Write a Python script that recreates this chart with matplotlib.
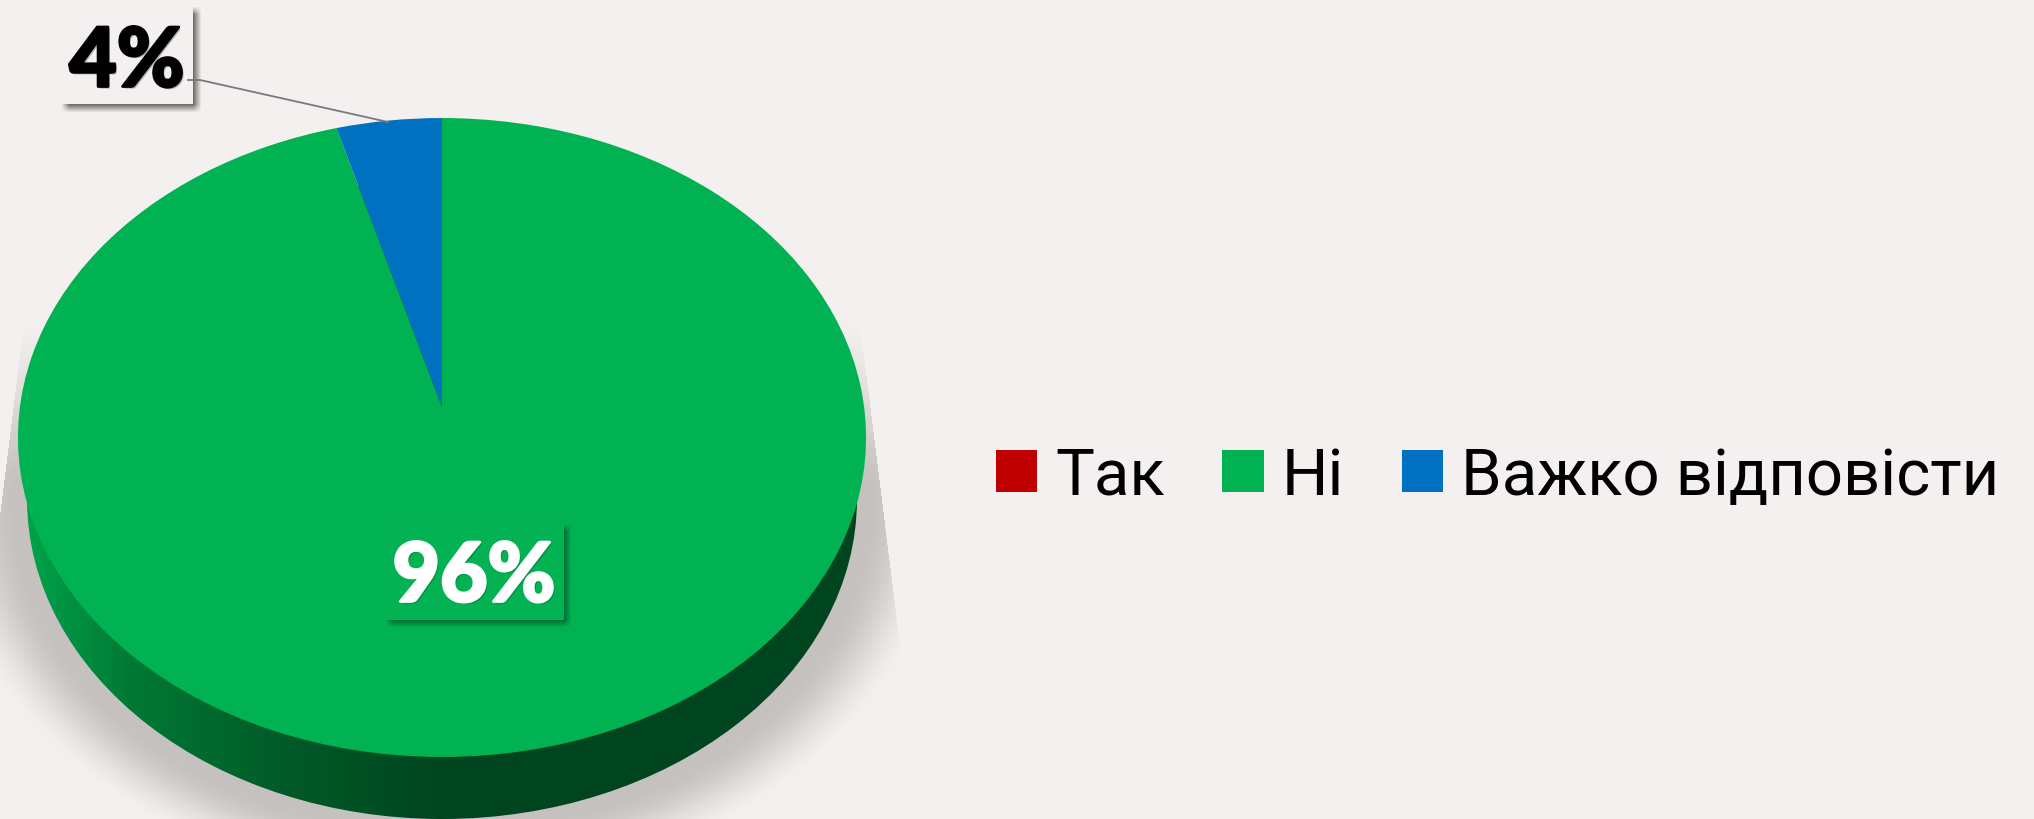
"""Perspective pie with an extruded wall, soft shadow and bottom-right legend."""
import matplotlib

matplotlib.use("Agg")
import matplotlib.patheffects as pe
import matplotlib.pyplot as plt
import numpy as np
from matplotlib.colors import LinearSegmentedColormap
from matplotlib.patches import Ellipse, Rectangle
from matplotlib.transforms import Transform

categories = ["Так", "Ні", "Важко відповісти"]
shares = [0.0, 95.6, 4.4]
slice_colors = ["#C00000", "#00B251", "#0070C0"]
percent_labels = ["96%", "4%"]

BG = "#F4F0EF"
WIDTH, HEIGHT = 2034, 820


class Perspective(Transform):
    """Tilt the unit-circle pie into page pixels."""

    input_dims = 2
    output_dims = 2

    def transform_non_affine(self, values):
        u, v = np.asarray(values).T
        w = 0.0955 * v + 1.0
        return np.column_stack([442.0 + 422.1 * u / w, (408.0 - 277.6 * v) / w])


def soft_rect(ax, x0, y0, x1, y1, color, alpha, blur, zorder):
    """Blurred rectangle used as a drop shadow."""
    xs = np.arange(x0 - blur, x1 + blur + 1)
    ys = np.arange(y0 - blur, y1 + blur + 1)
    gx = np.clip(np.minimum(xs - x0 + blur, x1 + blur - xs) / (2 * blur), 0, 1)
    gy = np.clip(np.minimum(ys - y0 + blur, y1 + blur - ys) / (2 * blur), 0, 1)
    rgba = np.zeros((len(ys), len(xs), 4))
    rgba[..., :3] = matplotlib.colors.to_rgb(color)
    rgba[..., 3] = alpha * np.outer(gy, gx)
    ax.imshow(rgba, extent=(xs[0], xs[-1], ys[-1], ys[0]), aspect="auto", zorder=zorder)


def heavy(color, shadow_color):
    """Thicken a label and give it a small soft shadow."""
    return [
        pe.SimplePatchShadow(offset=(1.5, -1.5), shadow_rgbFace=shadow_color, alpha=0.35),
        pe.Stroke(linewidth=2, foreground=color),
        pe.Normal(),
    ]


fig = plt.figure(figsize=(WIDTH / 100, HEIGHT / 100), dpi=100, facecolor=BG)
ax = fig.add_axes([0, 0, 1, 1])

# ground shadow, hard on the sides and soft towards the bottom
yy, xx = np.mgrid[0:HEIGHT, 0:WIDTH] + 0.5
radial = np.hypot((xx - 442) / 412, (yy - 500) / 320)
fade = np.clip((1.23 - radial) / 0.20, 0, 1)
fade = fade * fade * (3 - 2 * fade)
side = np.abs(xx - 442) <= 420 + (yy - 340) * 0.124
rise = np.clip((yy - 320) / 160, 0, 1)
shadow = np.zeros((HEIGHT, WIDTH, 4))
shadow[..., :3] = matplotlib.colors.to_rgb("#C5C1BF")
shadow[..., 3] = fade * side * rise
ax.imshow(shadow, extent=(0, WIDTH, HEIGHT, 0), aspect="auto", zorder=1)

# side wall
wall_cmap = LinearSegmentedColormap.from_list(
    "wall", [(0, "#00A54D"), (0.25, "#007A35"), (0.6, "#005C29"), (1, "#00451F")]
)
wall_img = ax.imshow(
    np.clip(np.linspace(0, 1, 860) / 0.5, 0, 1)[None, :],
    extent=(20, 866, 830, 180),
    aspect="auto",
    cmap=wall_cmap,
    zorder=2,
)
wall_clip = Ellipse((442, 500), 830, 640, transform=ax.transData, fc="none", ec="none")
ax.add_patch(wall_clip)
wall_img.set_clip_path(wall_clip)

# top face
wedges, _ = ax.pie(
    shares,
    colors=slice_colors,
    counterclock=False,
    startangle=90,
    wedgeprops={"linewidth": 0},
)
tilt = Perspective()
for wedge in wedges:
    wedge.set_transform(tilt + ax.transData)
    wedge.set_zorder(3)

ax.set_aspect("auto")
ax.set_xlim(0, WIDTH)
ax.set_ylim(HEIGHT, 0)
ax.axis("off")

# data labels
text_font = ["Lato", "DejaVu Sans"]
soft_rect(ax, 65, 11, 198, 110, "#4A4040", 0.75, 4, 4)
ax.add_patch(Rectangle((60, 6), 133, 99, fc=BG, ec="none", zorder=5))
ax.plot([188, 200, 388], [81, 81, 123], color="#7A7A7A", lw=1.3, zorder=6)
ax.text(
    127, 57, percent_labels[1], ha="center", va="center_baseline", color="black",
    fontsize=59, fontweight="black", family=text_font, zorder=7,
    path_effects=heavy("black", "#4A4040"),
)

soft_rect(ax, 389, 528, 568, 625, "#00542A", 0.8, 4, 4)
ax.add_patch(Rectangle((384, 523), 180, 98, fc="#02B253", ec="none", zorder=5))
ax.text(
    474, 572, percent_labels[0], ha="center", va="center_baseline", color="white",
    fontsize=59, fontweight="black", family=text_font, zorder=7,
    path_effects=heavy("white", "#00542A"),
)

ax.legend(
    wedges,
    categories,
    loc="center left",
    bbox_to_anchor=(996, 477),
    bbox_transform=ax.transData,
    ncol=3,
    frameon=False,
    prop={"family": ["Roboto", "DejaVu Sans"], "size": 47},
    borderpad=0,
    borderaxespad=0,
    handlelength=0.63,
    handleheight=0.63,
    handletextpad=0.28,
    columnspacing=0.88,
)

fig.savefig("out.png", dpi=100, facecolor=BG)
